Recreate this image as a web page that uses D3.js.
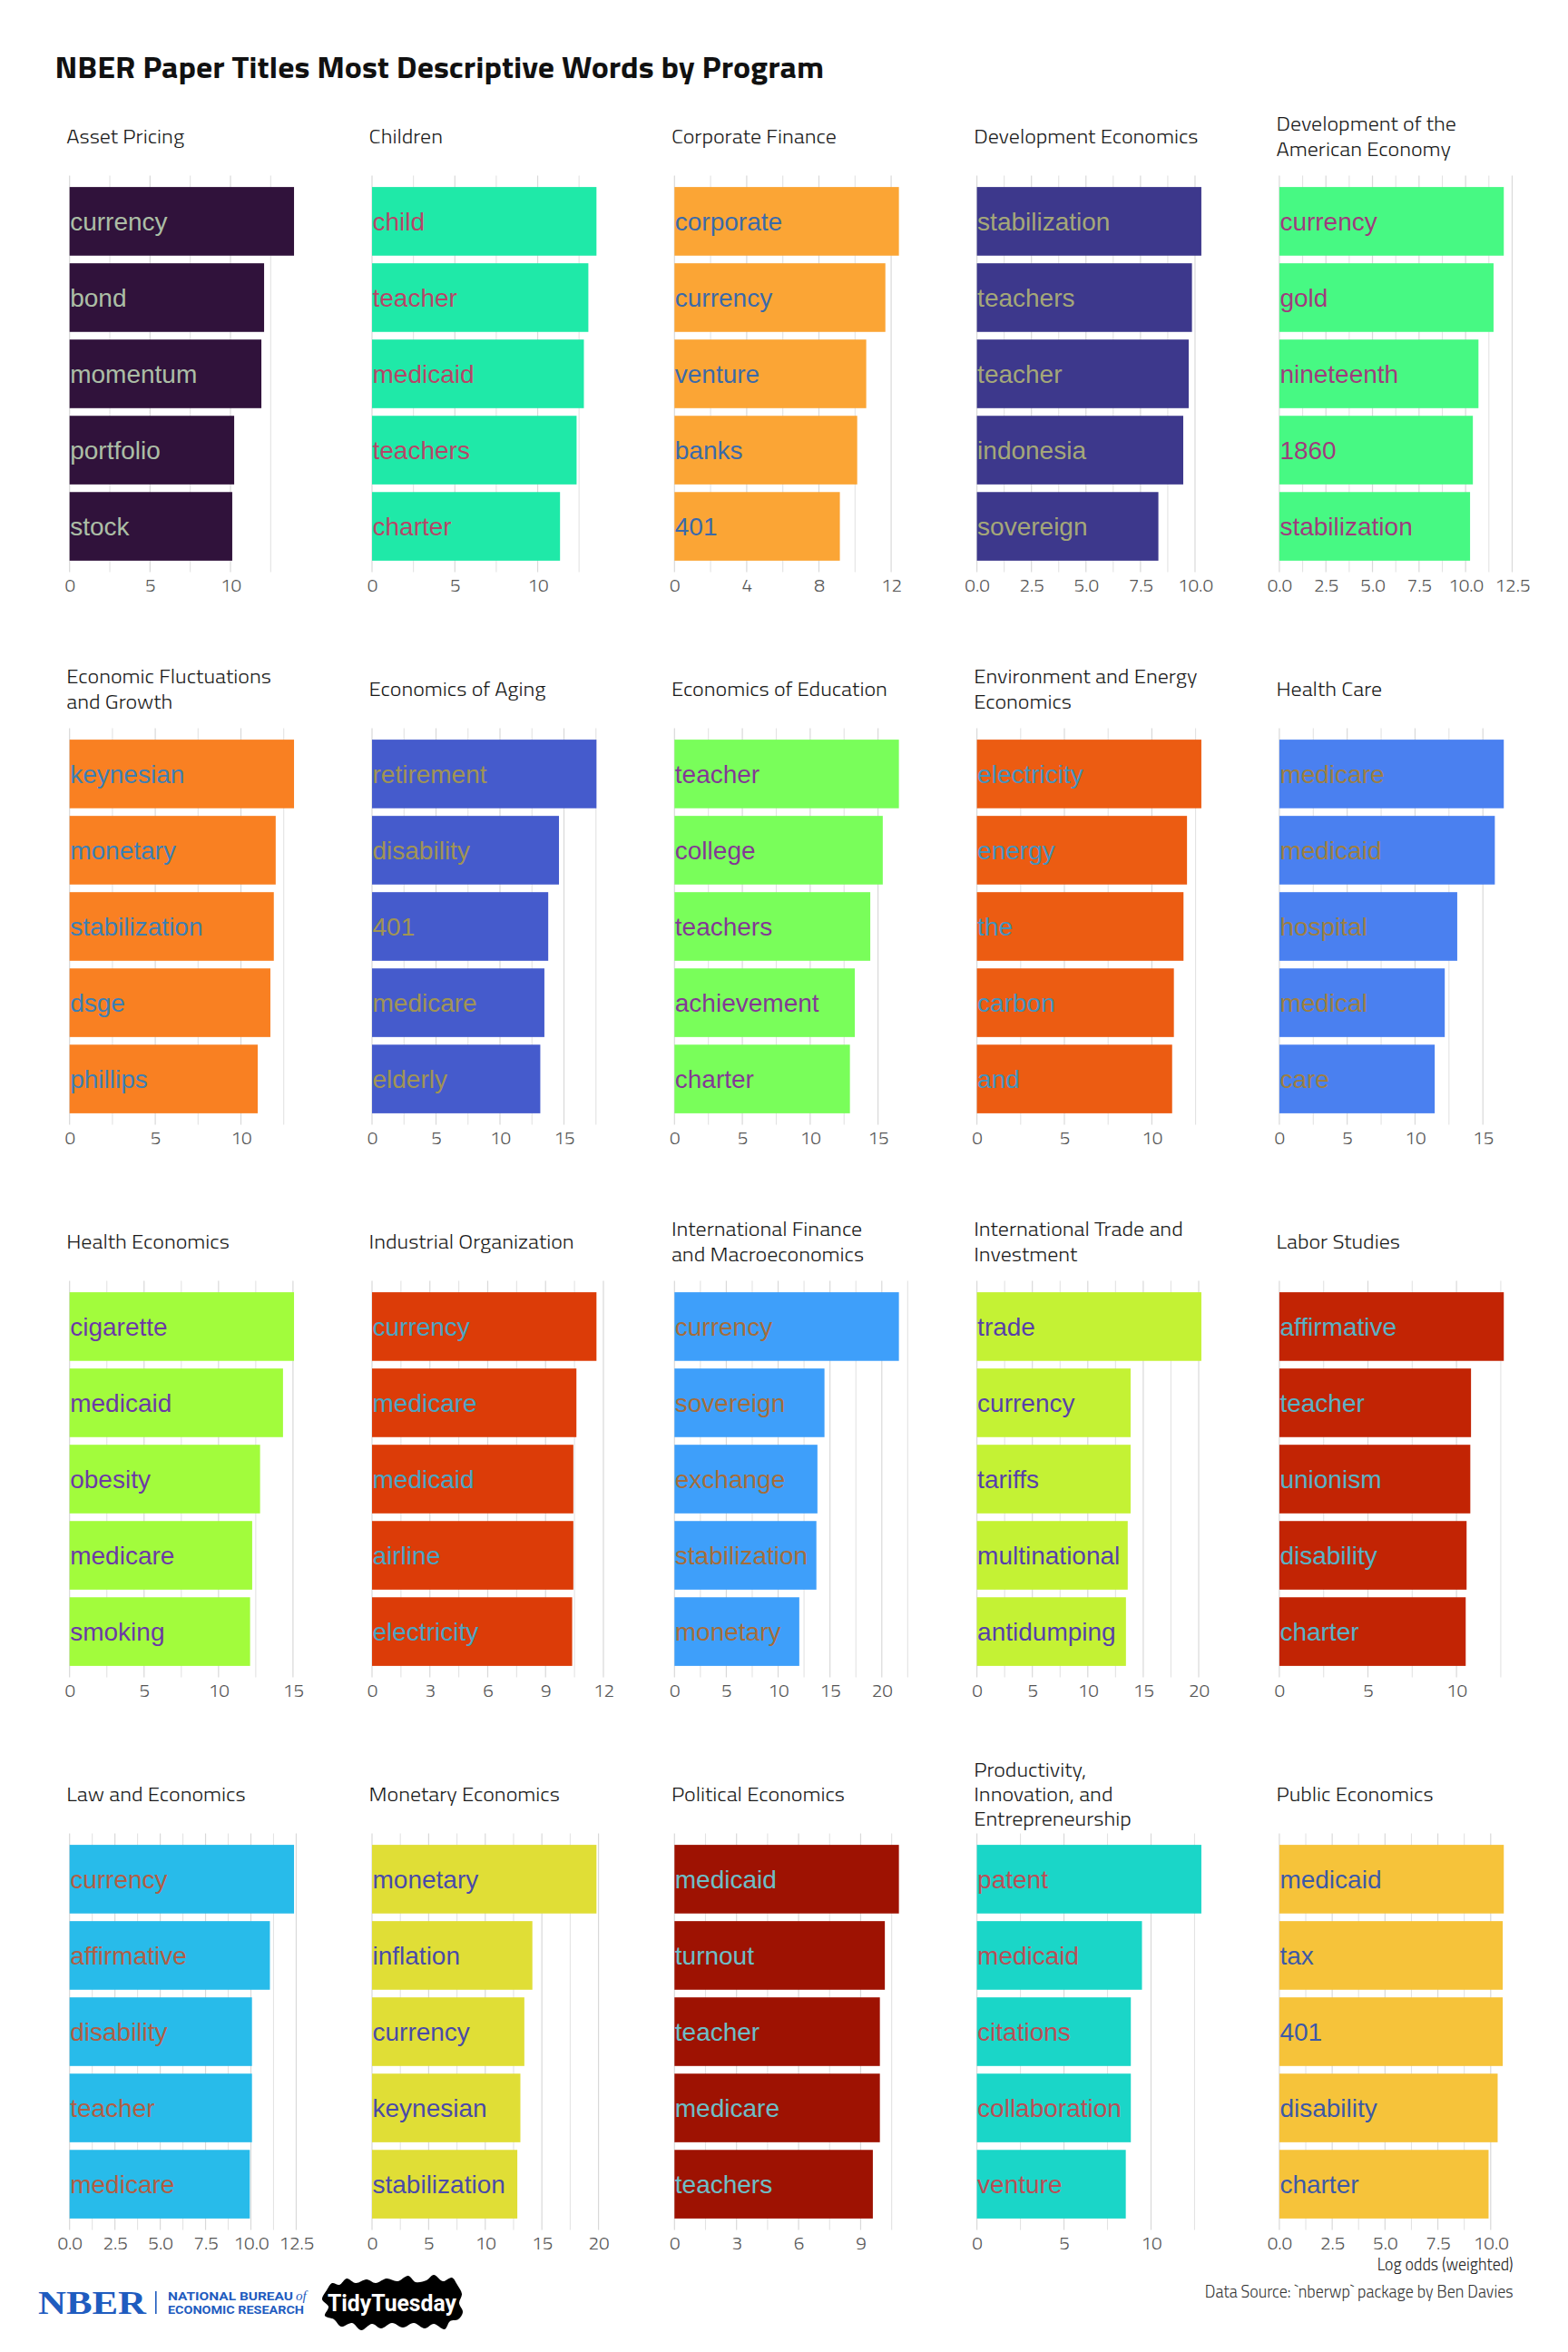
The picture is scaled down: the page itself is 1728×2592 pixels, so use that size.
<!DOCTYPE html>
<html>
<head>
<meta charset="utf-8">
<script src="https://cdn.jsdelivr.net/npm/d3@7"></script>
<style>
  html, body { margin: 0; padding: 0; background: #ffffff; }
  svg { display: block; }
</style>
</head>
<body>
<svg id="chart" width="1728" height="2592"></svg>
<script>
// ---------------- DATA ----------------
const programs = [
  "Asset Pricing", "Children", "Corporate Finance", "Development Economics", "Development of the\nAmerican Economy",
  "Economic Fluctuations\nand Growth", "Economics of Aging", "Economics of Education", "Environment and Energy\nEconomics", "Health Care",
  "Health Economics", "Industrial Organization", "International Finance\nand Macroeconomics", "International Trade and\nInvestment", "Labor Studies",
  "Law and Economics", "Monetary Economics", "Political Economics", "Productivity,\nInnovation, and\nEntrepreneurship", "Public Economics"
];

const programColors = [
  "#30123b", "#1fe9a8", "#fba535", "#3d388c", "#47f983",
  "#f98022", "#455bcc", "#79fe5a", "#ec5c12", "#4a80f0",
  "#a2fc3c", "#dc3c08", "#3e9ffa", "#c4f234", "#c22404",
  "#28bbea", "#e0de36", "#9e1202", "#1ad6c8", "#f6c33a"
];

const words = [
  ["currency", "bond", "momentum", "portfolio", "stock"],
  ["child", "teacher", "medicaid", "teachers", "charter"],
  ["corporate", "currency", "venture", "banks", "401"],
  ["stabilization", "teachers", "teacher", "indonesia", "sovereign"],
  ["currency", "gold", "nineteenth", "1860", "stabilization"],
  ["keynesian", "monetary", "stabilization", "dsge", "phillips"],
  ["retirement", "disability", "401", "medicare", "elderly"],
  ["teacher", "college", "teachers", "achievement", "charter"],
  ["electricity", "energy", "the", "carbon", "and"],
  ["medicare", "medicaid", "hospital", "medical", "care"],
  ["cigarette", "medicaid", "obesity", "medicare", "smoking"],
  ["currency", "medicare", "medicaid", "airline", "electricity"],
  ["currency", "sovereign", "exchange", "stabilization", "monetary"],
  ["trade", "currency", "tariffs", "multinational", "antidumping"],
  ["affirmative", "teacher", "unionism", "disability", "charter"],
  ["currency", "affirmative", "disability", "teacher", "medicare"],
  ["monetary", "inflation", "currency", "keynesian", "stabilization"],
  ["medicaid", "turnout", "teacher", "medicare", "teachers"],
  ["patent", "medicaid", "citations", "collaboration", "venture"],
  ["medicaid", "tax", "401", "disability", "charter"]
];

const logOdds = [
  [13.95, 12.09, 11.92, 10.23, 10.11],
  [13.55, 13.06, 12.79, 12.35, 11.35],
  [12.43, 11.68, 10.62, 10.12, 9.16],
  [10.29, 9.86, 9.71, 9.46, 8.32],
  [12.05, 11.50, 10.69, 10.39, 10.24],
  [13.10, 12.03, 11.92, 11.72, 10.98],
  [17.54, 14.61, 13.77, 13.47, 13.15],
  [16.54, 15.35, 14.43, 13.29, 12.93],
  [12.83, 12.01, 11.81, 11.26, 11.16],
  [16.54, 15.88, 13.11, 12.19, 11.45],
  [15.07, 14.33, 12.79, 12.26, 12.12],
  [11.64, 10.60, 10.44, 10.44, 10.38],
  [21.65, 14.47, 13.79, 13.69, 12.04],
  [20.24, 13.86, 13.86, 13.60, 13.44],
  [12.67, 10.82, 10.78, 10.57, 10.52],
  [12.38, 11.05, 10.06, 10.06, 9.94],
  [19.82, 14.16, 13.45, 13.10, 12.83],
  [10.85, 10.17, 9.93, 9.93, 9.59],
  [12.89, 9.48, 8.84, 8.84, 8.55],
  [10.62, 10.57, 10.57, 10.33, 9.90]
];

const tickBreaks = [
  [0, 5, 10], [0, 5, 10], [0, 4, 8, 12], [0, 2.5, 5, 7.5, 10], [0, 2.5, 5, 7.5, 10, 12.5],
  [0, 5, 10], [0, 5, 10, 15], [0, 5, 10, 15], [0, 5, 10], [0, 5, 10, 15],
  [0, 5, 10, 15], [0, 3, 6, 9, 12], [0, 5, 10, 15, 20], [0, 5, 10, 15, 20], [0, 5, 10],
  [0, 2.5, 5, 7.5, 10, 12.5], [0, 5, 10, 15, 20], [0, 3, 6, 9], [0, 5, 10], [0, 2.5, 5, 7.5, 10]
];

const titleText = "NBER Paper Titles Most Descriptive Words by Program";
const xAxisTitle = "Log odds (weighted)";
const captionText = "Data Source: `nberwp` package by Ben Davies";

// ---------------- LAYOUT ----------------
const svg = d3.select("#chart");
svg.append("rect").attr("width", 1728).attr("height", 2592).attr("fill", "#ffffff");

const nCols = 5;
const colX0 = 76.7, colPitch = 333.3, panelW = 259.7;
const rowY0 = 193.5, rowPitch = 609, panelH = 437;
const titleFont = "'Titillium Web', Roboto, 'Noto Sans', sans-serif";
const labelFont = "'Liberation Sans', Arial, Helvetica, sans-serif";

// squeeze a text horizontally about its anchor x so its width matches a target
function fitWidth(sel, anchorX, target) {
  const w = sel.node().getComputedTextLength();
  sel.attr("transform", `translate(${anchorX},0) scale(${target / w},1) translate(${-anchorX},0)`);
}

// Main title
const mainTitle = svg.append("text")
  .attr("x", 60.5).attr("y", 86)
  .attr("font-family", titleFont).attr("font-weight", 700)
  .attr("font-size", 32).attr("fill", "#111111")
  .text(titleText);
fitWidth(mainTitle, 60.5, 848);

// horizontal compression giving the narrow look of the original typeface
const facetSize = 22;
const probe = svg.append("text").attr("font-family", titleFont).attr("font-weight", 300)
  .attr("font-size", facetSize).text("Corporate Finance");
const facetScale = 182 / probe.node().getComputedTextLength();
probe.remove();

function fmtFor(breaks) {
  const hasFrac = breaks.some(b => Math.round(b) !== b);
  return hasFrac ? d3.format(".1f") : d3.format("d");
}

programs.forEach((prog, i) => {
  const col = i % nCols, row = Math.floor(i / nCols);
  const px = colX0 + col * colPitch;
  const py = rowY0 + row * rowPitch;
  const vals = logOdds[i];
  const ws = words[i];
  const maxV = d3.max(vals);
  const x = d3.scaleLinear().domain([0, maxV * 1.05]).range([0, panelW]);
  const y = d3.scaleBand().domain(ws).range([0, panelH]).paddingInner(0.1).paddingOuter(0.15);
  const g = svg.append("g").attr("transform", `translate(${px},${py})`);

  // gridlines (major + minor)
  const majors = tickBreaks[i];
  const step = majors[1] - majors[0];
  const minors = [];
  for (let k = 0; (k + 0.5) * step <= x.domain()[1]; k++) minors.push((k + 0.5) * step);
  g.selectAll("line.minor").data(minors).join("line")
    .attr("class", "minor")
    .attr("x1", d => x(d)).attr("x2", d => x(d))
    .attr("y1", 0).attr("y2", panelH)
    .attr("stroke", "#e3e3e3").attr("stroke-width", 1.1);
  g.selectAll("line.major").data(majors.filter(d => d <= x.domain()[1])).join("line")
    .attr("class", "major")
    .attr("x1", d => x(d)).attr("x2", d => x(d))
    .attr("y1", 0).attr("y2", panelH)
    .attr("stroke", "#d9d9d9").attr("stroke-width", 1.2);

  // bars
  const fill = programColors[i];
  g.selectAll("rect.bar").data(ws).join("rect")
    .attr("class", "bar")
    .attr("x", x(0))
    .attr("y", d => y(d))
    .attr("width", (d, j) => x(vals[j]) - x(0))
    .attr("height", y.bandwidth())
    .attr("fill", fill);

  // labels: inverted colour with alpha over the bar
  const c = d3.rgb(fill);
  const inv = d3.rgb(255 - c.r, 255 - c.g, 255 - c.b);
  g.selectAll("text.lbl").data(ws).join("text")
    .attr("class", "lbl")
    .attr("x", x(0) + 0.5)
    .attr("y", d => y(d) + y.bandwidth() / 2 + 10)
    .attr("font-family", labelFont).attr("font-size", 28)
    .attr("fill", inv.formatHex()).attr("fill-opacity", 0.8)
    .text(d => d);

  // axis tick labels
  const axis = d3.axisBottom(x).tickValues(majors).tickFormat(fmtFor(majors)).tickSize(0).tickPadding(0);
  const ax = g.append("g").attr("transform", `translate(0,${panelH + 8})`).call(axis);
  ax.select(".domain").remove();
  ax.selectAll("text")
    .attr("font-family", titleFont).attr("font-weight", 300)
    .attr("font-size", 19).attr("fill", "#555555")
    .attr("dy", "0.71em")
    .attr("transform", `scale(${facetScale},1)`);

  // facet title (one text element, one tspan per line)
  const lines = prog.split("\n");
  const lineGap = 27.5;
  const cy = py - 43.5;
  const tx = px - 3.4;
  const y0 = cy - (lines.length - 1) / 2 * lineGap + 8;
  const ft = svg.append("text")
    .attr("transform", `translate(${tx},${y0}) scale(${facetScale},1)`)
    .attr("font-family", titleFont).attr("font-weight", 300)
    .attr("font-size", facetSize).attr("fill", "#1a1a1a");
  lines.forEach((ln, li) => {
    ft.append("tspan").attr("x", 0).attr("y", li * lineGap).text(ln);
  });
});

const rightEdge = colX0 + 4 * colPitch + panelW - 2;

// x-axis title (bottom-right)
const xt = svg.append("text")
  .attr("x", rightEdge).attr("y", 2502)
  .attr("text-anchor", "end")
  .attr("font-family", titleFont).attr("font-weight", 300)
  .attr("font-size", 19).attr("fill", "#222222")
  .text(xAxisTitle);
fitWidth(xt, rightEdge, 150);

// caption
const cap = svg.append("text")
  .attr("x", rightEdge).attr("y", 2532)
  .attr("text-anchor", "end")
  .attr("font-family", titleFont).attr("font-weight", 300)
  .attr("font-size", 18.5).attr("fill", "#333333")
  .text(captionText);
fitWidth(cap, rightEdge, 340);

// ---------------- LOGOS ----------------
// NBER logo
const nber = svg.append("g");
nber.append("text")
  .attr("x", 42).attr("y", 2550)
  .attr("font-family", "'Liberation Serif', 'DejaVu Serif', serif").attr("font-weight", 700)
  .attr("font-size", 36).attr("fill", "#1f5cbf")
  .attr("textLength", 119).attr("lengthAdjust", "spacingAndGlyphs")
  .text("NBER");
nber.append("rect").attr("x", 171).attr("y", 2525).attr("width", 1.6).attr("height", 25).attr("fill", "#1f5cbf");
nber.append("text")
  .attr("x", 185).attr("y", 2535)
  .attr("font-family", "Roboto, sans-serif").attr("font-weight", 700)
  .attr("font-size", 12.5).attr("fill", "#1f5cbf")
  .attr("textLength", 138).attr("lengthAdjust", "spacingAndGlyphs")
  .text("NATIONAL BUREAU");
nber.append("text")
  .attr("x", 326).attr("y", 2535)
  .attr("font-family", "'Liberation Serif', serif").attr("font-style", "italic")
  .attr("font-size", 15).attr("fill", "#1f5cbf")
  .text("of");
nber.append("text")
  .attr("x", 185).attr("y", 2550)
  .attr("font-family", "Roboto, sans-serif").attr("font-weight", 700)
  .attr("font-size", 12.5).attr("fill", "#1f5cbf")
  .attr("textLength", 150).attr("lengthAdjust", "spacingAndGlyphs")
  .text("ECONOMIC RESEARCH");

// TidyTuesday brush logo
const tt = svg.append("g").attr("transform", "translate(432,2538)");
const blob = [
  [-72, -14], [-66, -22], [-58, -20], [-50, -27], [-40, -22], [-28, -26], [-18, -22], [-6, -27], [6, -24],
  [18, -30], [26, -23], [38, -25], [46, -31], [56, -24], [66, -28], [72, -20], [77, -10], [74, 0],
  [78, 10], [73, 18], [64, 20], [58, 29], [46, 23], [36, 28], [24, 22], [12, 27], [0, 22], [-12, 28],
  [-22, 23], [-34, 30], [-44, 22], [-56, 26], [-64, 18], [-74, 14], [-70, 4], [-77, -4]
];
tt.append("path")
  .attr("d", d3.line().curve(d3.curveCatmullRomClosed)(blob))
  .attr("fill", "#000000");
tt.append("text")
  .attr("x", 0).attr("y", 9)
  .attr("text-anchor", "middle")
  .attr("font-family", "Roboto, 'Open Sans', sans-serif").attr("font-weight", 700)
  .attr("font-size", 25).attr("fill", "#ffffff")
  .attr("textLength", 142).attr("lengthAdjust", "spacingAndGlyphs")
  .text("TidyTuesday");
</script>
</body>
</html>
